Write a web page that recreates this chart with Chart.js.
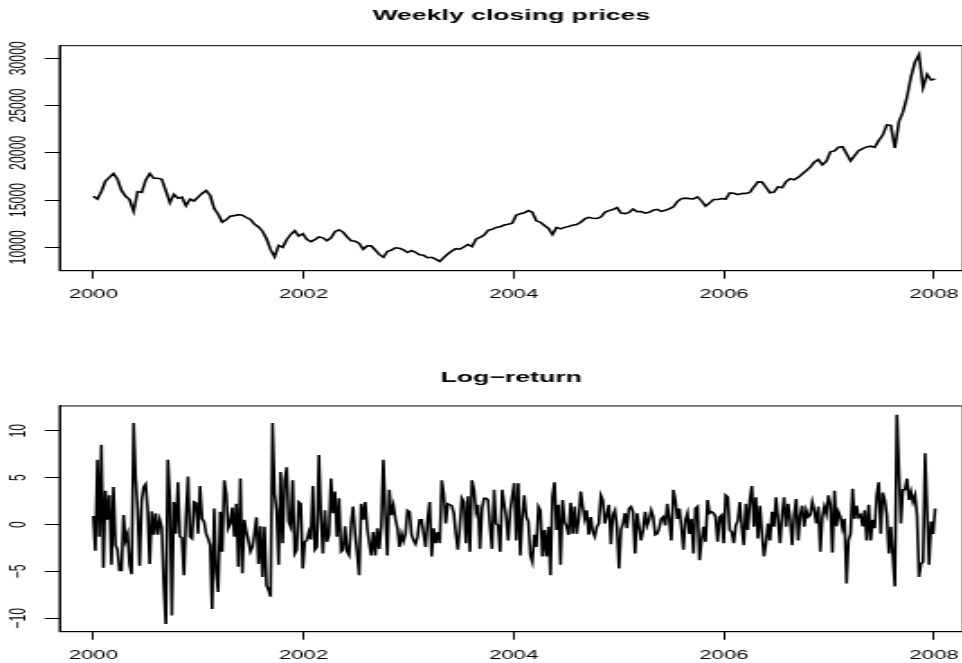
<!DOCTYPE html>
<html>
<head>
<meta charset="utf-8">
<script src="https://cdn.jsdelivr.net/npm/chart.js@4.4.1/dist/chart.umd.min.js"></script>
<style>
  html, body { margin: 0; padding: 0; background: #fff; overflow: hidden; }
  #page { position: relative; width: 962px; height: 663px; overflow: hidden; background: #fff; }
  /* the reference is an R plot that was stretched sideways, so draw narrow and stretch */
  .panel { position: absolute; left: 0; transform: scaleX(1.8); transform-origin: 0 0; }
</style>
</head>
<body>
<div id="page">
  <canvas id="priceChart" class="panel" width="535" height="331" style="top:0;width:535px;height:331px"></canvas>
  <canvas id="returnChart" class="panel" width="535" height="332" style="top:331px;width:535px;height:332px"></canvas>
</div>
<script>
const WEEKS_PER_YEAR = 52.18;
const yearTicks = [2000, 2002, 2004, 2006, 2008];
const priceTicks = [10000, 15000, 20000, 25000, 30000];
const returnTicks = [-10, -5, 0, 5, 10];

// weekly closing price, read every second week
const price2000 = [15400, 15100, 15900, 17000, 17400, 17800, 17200, 16000, 15400, 15050, 13800, 15900, 15800, 17100, 17800, 17300, 17300, 17200, 16000, 14700, 15600, 15200, 15300, 14400, 15100, 14900];
const price2001 = [15300, 15700, 16000, 15500, 14100, 13500, 12650, 12900, 13300, 13350, 13450, 13400, 13150, 12950, 12450, 12150, 11700, 10900, 9750, 9000, 10200, 10000, 10800, 11350, 11750, 11200];
const price2002 = [11450, 10850, 10600, 10800, 11100, 11000, 10700, 11000, 11650, 11850, 11600, 11100, 10700, 10650, 10400, 9800, 10150, 10150, 9700, 9250, 8950, 9550, 9700, 9950, 9900, 9720];
const price2003 = [9450, 9650, 9470, 9200, 9150, 8900, 8940, 8750, 8500, 8900, 9300, 9600, 9850, 9800, 10030, 10300, 10070, 10850, 11050, 11300, 11800, 11900, 12100, 12180, 12360, 12450];
const price2004 = [12550, 13400, 13550, 13650, 13880, 13700, 12800, 12650, 12300, 12000, 11350, 12100, 11950, 12110, 12200, 12340, 12400, 12650, 13000, 13170, 13070, 13050, 13200, 13700, 13880, 14000];
const price2005 = [14200, 13620, 13560, 13700, 14050, 13770, 13780, 13610, 13700, 13930, 14020, 13800, 13920, 14060, 14280, 14830, 15150, 15200, 15150, 15120, 15330, 14900, 14350, 14700, 15050, 15050];
const price2006 = [15150, 15100, 15760, 15710, 15570, 15680, 15700, 15800, 16400, 16920, 16900, 16350, 15780, 15850, 16400, 16300, 16950, 17250, 17150, 17400, 17750, 18110, 18480, 19000, 19280, 18720];
const price2007 = [19100, 20100, 20200, 20580, 20650, 19900, 19150, 19700, 20220, 20440, 20620, 20700, 20580, 21300, 21870, 22950, 22900, 20500, 23300, 24300, 25900, 28000, 29600, 30400, 26900, 28300, 27700, 27800];

// weekly log-return (%)
const ret2000 = [0.9, -2.8, 6.9, -1.3, 8.5, -4.6, 3.6, 0.5, 3.1, -4.3, 4.0, -2.2, -2.7, -4.9, -4.9, 1.0, -1.7, -1.0, -4.3, -5.3, 10.8, 5.0, 1.5, -4.4, 2.6, 4.0, 4.3, 1.5, -4.2, 1.4, -1.1, 1.2, -1.1, 0.5, -0.3, -6.5, -10.6, 6.9, 2.9, -9.7, 2.4, -1.0, 4.5, -1.3, -1.4, -5.4, 0.8, 5.1, -1.3, -1.5, 2.4, 2.3];
const ret2001 = [-1.0, 4.1, 0.6, 0.3, -1.0, -1.5, -2.2, -9.0, 1.7, -5.2, -7.2, 1.35, -2.9, 4.7, 3.3, -0.4, 0.1, 1.8, -1.3, 2.2, -4.5, 4.9, -5.2, 0.5, -0.8, -1.7, -2.9, -2.4, -1.0, 0.75, -4.2, -0.2, -5.6, -0.25, -6.5, -7.0, -7.7, 10.8, 3.3, 1.5, -4.3, 5.6, -2.0, 4.7, 6.1, 0.3, -0.25, 4.7, -3.1, -2.7, 2.4, 2.2];
const ret2002 = [-4.7, -1.85, -1.7, -0.8, -1.6, 4.1, -2.7, -2.4, 7.4, 0.8, -3.1, 1.5, -1.85, -1.1, 4.9, 1.2, 3.5, -1.3, 2.8, -2.9, -2.7, -0.2, -2.9, -3.3, 0.1, 1.9, -1.0, -3.1, -5.4, 2.2, 0.5, 2.4, -0.4, -2.0, -3.3, -0.8, -3.3, -0.4, -2.6, -0.1, 6.9, 1.0, -3.3, 3.7, 1.0, 2.0, 0.6, -0.4, -2.4, -1.0, -1.8, -1.0];
const ret2003 = [1.5, 1.35, -1.1, -1.7, -2.1, -1.3, 0.5, 0.5, -1.0, -2.4, 0.5, 2.4, -3.4, -0.4, -2.0, -0.8, -2.0, 4.7, 3.3, 0.1, 2.2, 2.1, 2.0, 1.2, -1.0, -2.7, -0.25, 2.8, 2.4, -2.0, 3.0, -2.9, 4.7, 3.7, 1.35, 2.1, -2.6, 1.7, 2.8, 2.8, 2.6, -0.25, -2.6, 3.7, 0.1, -0.1, -2.9, 3.7, 2.2, 0.8, -1.7, 1.5];
const ret2004 = [3.0, 4.4, -1.7, 4.4, -3.3, 0.8, 3.1, 0.8, 0.3, -3.3, -4.0, -1.1, -2.4, 1.9, 1.5, -3.4, -0.6, -3.4, -0.25, -5.4, 3.0, 4.5, -0.6, 2.1, -4.3, 2.6, 0.3, -0.25, -1.1, 2.3, -1.0, 1.9, -1.0, 0.5, 3.5, 1.9, 0.6, 1.5, -1.1, 0.8, -0.8, -1.3, -0.25, 0.1, 3.1, 2.6, 0.1, 1.0, 2.1, -2.1, 1.0, 1.5];
const ret2005 = [-0.25, -4.7, -0.6, 0.1, 1.2, -0.4, 1.7, 1.9, 1.35, -3.1, 1.2, -0.25, -1.7, -0.6, 1.35, -0.1, 0.5, 1.5, 0.8, -1.1, -1.0, -0.4, 0.6, 0.8, -0.1, 2.2, 0.5, -1.7, 3.7, 2.6, 0.6, 1.7, -0.25, -2.7, 0.5, 1.2, -1.0, 0.6, -3.1, 1.7, 1.9, -3.8, -1.7, -0.25, -1.85, 2.6, 1.2, 1.35, 1.2, 0.8, -1.85, 0.8];
const ret2006 = [1.0, -2.0, 3.1, 2.9, -0.6, -0.8, -2.0, -0.1, 0.4, 2.4, -0.25, -2.2, 2.2, -0.6, 2.6, 4.1, -0.25, 2.9, -1.5, 2.0, -1.0, -3.4, -2.0, 0.1, -1.7, 1.35, -0.25, 2.9, 0.5, -2.0, 1.0, 2.9, -0.25, 2.2, 0.5, -2.2, 1.0, 2.7, -1.7, 1.0, 2.0, -0.25, 1.5, 0.8, 1.0, 2.4, 1.5, 0.1, 1.9, -2.9, 0.8, 1.9];
const ret2007 = [1.1, 3.1, 2.1, -3.0, 3.6, -0.2, 1.35, 0.8, -0.4, 0.6, -6.3, -1.7, -1.0, 3.8, 0.6, 2.0, 0.8, 1.0, -0.2, 1.5, -1.7, 2.1, -1.7, 0.5, -0.4, 3.1, 4.5, -1.0, 3.4, 2.6, 1.0, -3.1, -0.25, -3.4, -6.6, 11.7, 5.9, 0.1, 3.7, 3.7, 4.9, 2.6, 3.5, 2.4, 3.1, 1.0, -5.6, -4.2, -4.0, 7.6, 1.6, -4.3, 0.3, -1.0, 1.7];

const prices = [].concat(price2000, price2001, price2002, price2003, price2004, price2005, price2006, price2007);
const returns = [].concat(ret2000, ret2001, ret2002, ret2003, ret2004, ret2005, ret2006, ret2007);

const pricePoints = prices.map((v, i) => ({ x: 2000 + (2 * i) / WEEKS_PER_YEAR, y: v }));
const returnPoints = returns.map((v, i) => ({ x: 2000 + i / WEEKS_PER_YEAR, y: v }));

const FONT = "'Liberation Sans', Arial, Helvetica, sans-serif";
const withMinus = v => String(v).replace('-', '\u2212');

// R draws a full box round the plot region
const boxPlugin = {
  id: 'box',
  afterDraw(chart) {
    const { ctx, chartArea: a } = chart;
    ctx.save();
    ctx.strokeStyle = '#000';
    ctx.lineWidth = 1;
    ctx.strokeRect(a.left, a.top, a.right - a.left, a.bottom - a.top);
    ctx.restore();
  },
};

// no extra room for the end labels, the plot runs off the right edge like the original
const noEdgePadding = s => {
  s.paddingLeft = 0;
  s.paddingRight = 0;
  s.paddingTop = 0;
  s.paddingBottom = 0;
};

function makePanel(canvasId, title, points, yMin, yMax, yTicks, yPad, titlePad, bottomPad) {
  return new Chart(document.getElementById(canvasId), {
    type: 'line',
    data: {
      datasets: [{
        data: points,
        borderColor: '#000',
        borderWidth: 1.6,
        pointRadius: 0,
        tension: 0,
        fill: false,
      }],
    },
    options: {
      responsive: false,
      animation: false,
      events: [],
      layout: { padding: { left: 0, right: 0, top: 0, bottom: bottomPad } },
      plugins: {
        legend: { display: false },
        tooltip: { enabled: false },
        title: {
          display: true,
          text: title,
          fullSize: false,
          color: '#000',
          font: { family: FONT, size: 14.8, weight: 'bold' },
          padding: titlePad,
        },
      },
      scales: {
        x: {
          type: 'linear',
          min: 1999.679,
          max: 2008.276,
          afterBuildTicks: s => { s.ticks = yearTicks.map(v => ({ value: v })); },
          afterFit: s => { s.height = 30; noEdgePadding(s); },
          grid: { drawOnChartArea: false, color: '#000', tickLength: 8, tickWidth: 1 },
          border: { display: true, color: '#000', width: 1 },
          ticks: {
            color: '#000',
            font: { family: FONT, size: 12.3 },
            padding: 8.5,
            maxRotation: 0,
            autoSkip: false,
            callback: v => String(v),
          },
        },
        y: {
          type: 'linear',
          min: yMin,
          max: yMax,
          afterBuildTicks: s => { s.ticks = yTicks.map(v => ({ value: v })); },
          afterFit: s => { s.width = 33.1; noEdgePadding(s); },
          grid: { drawOnChartArea: false, color: '#000', tickLength: 8.3, tickWidth: 1 },
          border: { display: true, color: '#000', width: 1 },
          ticks: {
            color: '#000',
            font: { family: FONT, size: 12.3 },
            padding: yPad,
            minRotation: 90,
            maxRotation: 90,
            crossAlign: 'center',
            autoSkip: false,
            callback: v => withMinus(v),
          },
        },
      },
    },
    plugins: [boxPlugin],
  });
}

makePanel('priceChart', 'Weekly closing prices', pricePoints, 7524, 31333, priceTicks, -3.1, { top: 6.6, bottom: 21.3 }, 30.3);
makePanel('returnChart', 'Log\u2212return', returnPoints, -11.43, 12.63, returnTicks, 3.55, { top: 38.1, bottom: 19.1 }, 1.3);
</script>
</body>
</html>
